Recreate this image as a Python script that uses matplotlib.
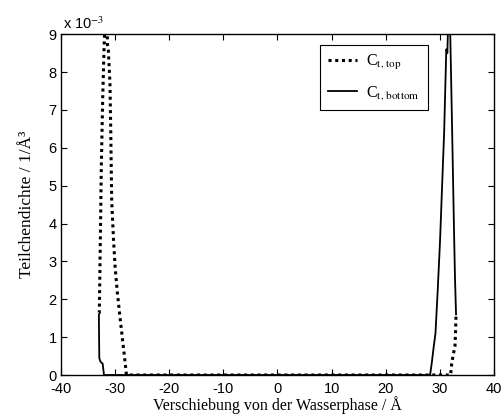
import matplotlib
matplotlib.use("Agg")
import matplotlib.pyplot as plt

# Data (densities in units of 1e-3 / Å^3)
x_top = [-33.0, -32.92, -32.8, -32.67, -32.55, -32.3, -32.05, -31.8, -31.6, -31.4,
         -31.25, -30.95, -30.8, -30.63, -30.3, -30.0, -29.6, -29.1, -28.6, -28.2,
         -27.9, -20.0, 0.0, 20.0, 28.0, 31.5, 32.0, 32.2, 32.5, 32.8, 32.9, 33.0]
c_top = [1.64, 1.64, 2.85, 4.17, 5.49, 7.26, 8.58, 9.6, 9.9, 8.7,
         8.58, 7.7, 6.4, 4.6, 3.6, 2.85, 2.2, 1.53, 0.9, 0.4,
         0.0, 0.0, 0.0, 0.0, 0.0, 0.0, 0.0, 0.3, 0.55, 0.75, 1.1, 1.6]

x_bottom = [-33.0, -32.92, -32.7, -32.3, -32.05, -31.5, -28.0, -20.0, 0.0, 20.0,
            28.2, 28.5, 28.8, 29.2, 29.6, 30.05, 30.4, 30.8, 31.2, 31.4,
            31.6, 31.8, 32.0, 32.3, 32.6, 32.8, 33.0]
c_bottom = [1.6, 0.45, 0.35, 0.3, 0.0, 0.0, 0.0, 0.0, 0.0, 0.0,
            0.0, 0.3, 0.66, 1.1, 2.2, 3.56, 4.9, 6.4, 8.6, 8.5,
            9.7, 9.9, 8.5, 6.3, 4.0, 2.6, 1.6]

xticks = [-40, -30, -20, -10, 0, 10, 20, 30, 40]
yticks = [0, 1, 2, 3, 4, 5, 6, 7, 8, 9]

plt.rcParams['mathtext.fontset'] = 'stix'
serif = ['Liberation Serif', 'DejaVu Serif']
sans = ['Liberation Sans', 'DejaVu Sans']

fig = plt.figure(figsize=(5.04, 4.17), dpi=100)
ax = fig.add_axes([0.121, 0.1007, 0.859, 0.8173])

ax.plot(x_top, c_top, color='black', linestyle=(0, (1.0, 1.2)), linewidth=2.2,
        label=r'C$_{\rm t,\,top}$')
ax.plot(x_bottom, c_bottom, color='black', linestyle='-', linewidth=1.3,
        label=r'C$_{\rm t,\,bottom}$')

ax.set_xlim(-40, 40)
ax.set_ylim(0, 9)
ax.set_xticks(xticks)
ax.set_yticks(yticks)
ax.set_xticklabels([str(v) for v in xticks], family=sans, fontsize=10.5)
ax.set_yticklabels([str(v) for v in yticks], family=sans, fontsize=10.5)
ax.tick_params(direction='in', top=True, right=True, length=4, width=0.8)
ax.tick_params(axis='x', pad=5)
ax.tick_params(axis='y', pad=3)
for s in ax.spines.values():
    s.set_linewidth(1.0)

ax.text(0.004, 1.005, r'x 10$^{-3}$', transform=ax.transAxes, family=sans,
        fontsize=10.5, ha='left', va='bottom')

ax.set_xlabel('Verschiebung von der Wasserphase / Å', family=serif, fontsize=11.5, labelpad=0)
ax.set_ylabel('Teilchendichte / 1/Å³', family=serif, fontsize=12.5, labelpad=10)

leg = ax.legend(loc='upper left', bbox_to_anchor=(0.598, 0.968), frameon=True,
                fancybox=False, edgecolor='black', framealpha=1,
                prop={'family': serif, 'size': 11.5}, handlelength=1.8,
                handletextpad=0.6, borderpad=0.5, labelspacing=0.75,
                borderaxespad=0)
leg.get_frame().set_linewidth(0.8)

fig.savefig('out.png', dpi=100)
